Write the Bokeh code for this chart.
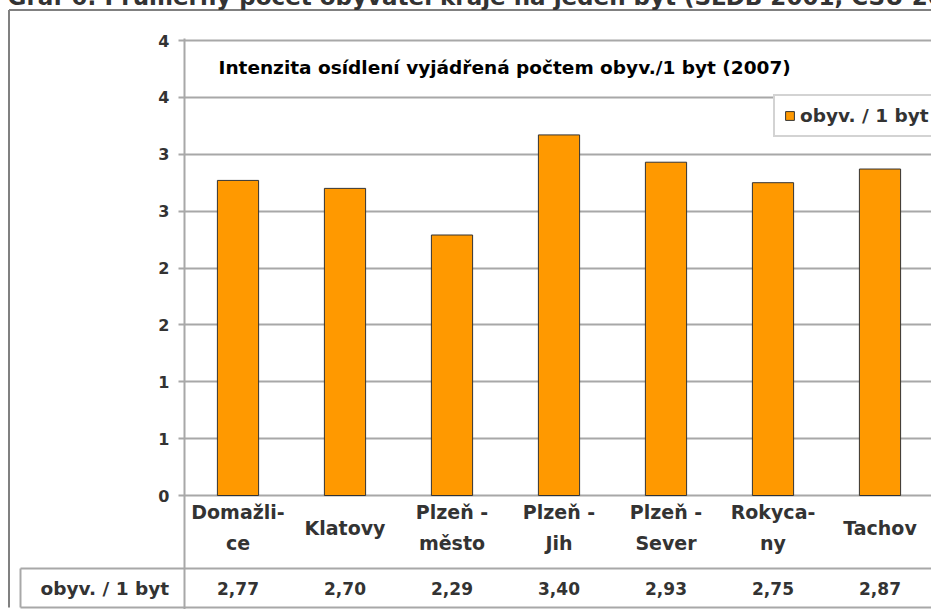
from bokeh.plotting import figure
from bokeh.models import ColumnDataSource, FixedTicker, Legend, LegendItem, Range1d
from bokeh.core.properties import value
from bokeh.embed import file_html
from bokeh.resources import INLINE

# ---------------- data ----------------
page_title = "Graf 6: Průměrný počet obyvatel kraje na jeden byt (SLDB 2001, ČSÚ 2007)"
chart_title = "Intenzita osídlení vyjádřená počtem obyv./1 byt (2007)"
series_name = "obyv. / 1 byt"
categories = ["Domažli-\nce", "Klatovy", "Plzeň -\nměsto", "Plzeň -\nJih",
              "Plzeň -\nSever", "Rokyca-\nny", "Tachov"]
bar_values = [2.77, 2.70, 2.29, 3.17, 2.93, 2.75, 2.87]          # bar heights as drawn
table_labels = ["2,77", "2,70", "2,29", "3,40", "2,93", "2,75", "2,87"]  # data-table row
y_ticks = [0, 0.5, 1, 1.5, 2, 2.5, 3, 3.5, 4]
y_tick_labels = ["0", "1", "1", "2", "2", "3", "3", "4", "4"]

# ---------------- layout constants (pixels, canvas = page) ----------------
W, H = 931, 609
FRAME_L, FRAME_T = 184, 38
Y0 = 495            # pixel y of value 0
PPU = 113.75        # pixels per unit on y
CAT_W = 107         # pixels per category

FONT = value("DejaVu Sans")
TXT = "#333333"
GRID = "#A8A8A8"
BORDER = "#808080"
ORANGE = "#FF9900"


def dx(px):
    return (px - FRAME_L) / CAT_W


def dy(py):
    return (Y0 - py) / PPU


p = figure(width=W, height=H,
           x_range=Range1d(0, dx(W)),
           y_range=Range1d(dy(H), dy(FRAME_T)),
           output_backend="svg", toolbar_location=None,
           x_axis_location=None, title=None,
           min_border_left=FRAME_L, min_border_top=FRAME_T,
           min_border_right=0, min_border_bottom=0)
p.outline_line_color = None
p.background_fill_color = "white"
p.border_fill_color = "white"

# y axis
ticker = FixedTicker(ticks=y_ticks)
p.yaxis.ticker = ticker
p.yaxis.major_label_overrides = {t: l for t, l in zip(y_ticks, y_tick_labels)}
p.yaxis.axis_line_color = GRID
p.yaxis.axis_line_width = 2
p.yaxis.major_tick_line_color = GRID
p.yaxis.major_tick_line_width = 2
p.yaxis.major_tick_out = 6
p.yaxis.major_tick_in = 0
p.yaxis.minor_tick_line_color = None
p.yaxis.major_label_standoff = 9
p.yaxis.major_label_text_font = "DejaVu Sans"
p.yaxis.major_label_text_font_style = "bold"
p.yaxis.major_label_text_font_size = "16px"
p.yaxis.major_label_text_color = TXT

p.ygrid.ticker = ticker
p.ygrid.grid_line_color = GRID
p.ygrid.grid_line_width = 2
p.xgrid.visible = False

# bars
x_centers = [i + 0.5 for i in range(len(categories))]
src = ColumnDataSource(dict(x=x_centers, top=bar_values, cat=categories, lab=table_labels))
bars = p.vbar(x="x", top="top", bottom=0, width=0.385, source=src,
              fill_color=ORANGE, line_color="#333333", line_width=1)

# chart title inside plot area
p.text(x=[dx(218)], y=[dy(67)], text=[chart_title], text_font=FONT,
       text_font_style="bold", text_font_size="18.5px", text_color="black",
       text_align="left", text_baseline="middle")

# legend
legend = Legend(items=[LegendItem(label=series_name, renderers=[bars])],
                location=(773 - FRAME_L, H - 137), orientation="vertical",
                border_line_color=GRID, border_line_width=2,
                background_fill_color="white", background_fill_alpha=1,
                padding=9, margin=0, spacing=0,
                glyph_width=11, glyph_height=11, label_standoff=5,
                label_text_font="DejaVu Sans", label_text_font_style="bold",
                label_text_font_size="18.5px", label_text_color=TXT)
p.add_layout(legend)

# data table: category names and values
p.text(x="x", y=dy(527), text="cat", source=src, text_font=FONT,
       text_font_style="bold", text_font_size="19px", text_color=TXT,
       text_align="center", text_baseline="middle", text_line_height=1.45)
p.text(x="x", y=dy(588), text="lab", source=src, text_font=FONT,
       text_font_style="bold", text_font_size="17px", text_color=TXT,
       text_align="center", text_baseline="middle")

# table rules and outer chart border (outside the frame -> overlay level)
right = dx(W + 20)
xs = [[dx(20), right], [dx(20), right], [dx(20), dx(20)],
      [dx(8.5), dx(8.5)], [dx(8.5), right]]
ys = [[dy(568), dy(568)], [dy(607), dy(607)], [dy(568), dy(607)],
      [dy(9.5), dy(607)], [dy(9.5), dy(9.5)]]
cols = [GRID, GRID, GRID, BORDER, BORDER]
p.multi_line(xs=xs, ys=ys, line_color=cols, line_width=2, level="overlay")

# table key cell
p.scatter(x=[dx(31.5)], y=[dy(587.5)], marker="square", size=11,
          fill_color=ORANGE, line_color="#333333", line_width=1, level="overlay")
p.text(x=[dx(40)], y=[dy(588)], text=[series_name], text_font=FONT,
       text_font_style="bold", text_font_size="18.5px", text_color=TXT,
       text_align="left", text_baseline="middle", level="overlay")

# page caption (cut off at the top of the page, as in the source)
p.text(x=[dx(7)], y=[dy(9.5)], text=[page_title], text_font=FONT,
       text_font_style="bold", text_font_size="23px", text_color=TXT,
       text_align="left", text_baseline="bottom", level="overlay")

open("out.html", "w").write(file_html(p, INLINE))
